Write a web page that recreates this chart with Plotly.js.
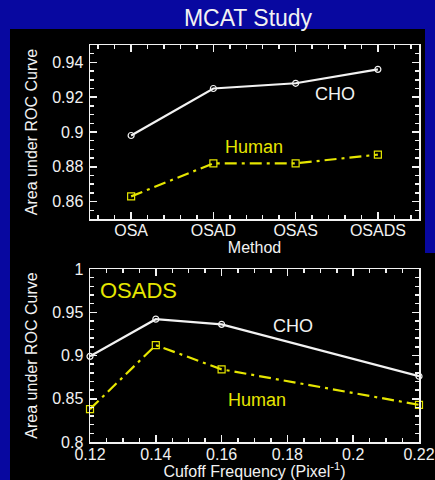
<!DOCTYPE html>
<html>
<head>
<meta charset="utf-8">
<script src="https://cdn.plot.ly/plotly-3.0.1.min.js"></script>
<style>
  html, body { margin: 0; padding: 0; background: #0808a0; }
  #chart { width: 435px; height: 480px; }
</style>
</head>
<body>
<div id="chart"></div>
<script>
// Area under ROC curve by reconstruction method
const methods = ['OSA', 'OSAD', 'OSAS', 'OSADS'];
const choByMethod = [0.898, 0.925, 0.928, 0.936];
const humanByMethod = [0.863, 0.882, 0.882, 0.887];

// OSADS: area under ROC curve by cutoff frequency
const cutoffFreq = [0.12, 0.14, 0.16, 0.22];
const choByCutoff = [0.899, 0.942, 0.936, 0.876];
const humanByCutoff = [0.838, 0.912, 0.884, 0.843];

const W = 435, H = 480;
const FONT = 'Liberation Sans, Arial, sans-serif';
const WHITE = '#f2f2f2';
const YELLOW = '#e6e600';
const BLUE = '#0808a0';
const humanDash = '12px,5px,3px,5px';

const methodIdx = methods.map((_, i) => i);

const px = (a, b) => [a / W, b / W];
const py = (top, bottom) => [1 - bottom / H, 1 - top / H];

function axisBase() {
  return {
    showline: true, linecolor: WHITE, linewidth: 1.5,
    mirror: 'allticks', ticks: 'inside', ticklen: 7, tickwidth: 1.5, tickcolor: WHITE,
    showgrid: false, zeroline: false,
    tickfont: {family: FONT, size: 16, color: WHITE},
    title: {font: {family: FONT, size: 16, color: WHITE}},
    fixedrange: true, automargin: false
  };
}

function series(x, y, xa, ya, color, dash, symbol, size) {
  return {x: x, y: y, xaxis: xa, yaxis: ya, mode: 'lines+markers', cliponaxis: false,
          line: {color: color, width: 2.2, dash: dash},
          marker: {symbol: symbol, size: size, color: color, line: {width: 1.2}}};
}

const traces = [
  series(methodIdx, choByMethod, 'x', 'y', WHITE, 'solid', 'circle-open', 6),
  series(methodIdx, humanByMethod, 'x', 'y', YELLOW, humanDash, 'square-open', 7),
  series(cutoffFreq, choByCutoff, 'x2', 'y2', WHITE, 'solid', 'circle-open', 6),
  series(cutoffFreq, humanByCutoff, 'x2', 'y2', YELLOW, humanDash, 'square-open', 7)
];

const xTop = Object.assign(axisBase(), {
  domain: px(90, 419), anchor: 'y', range: [-0.5, 3.5],
  tickmode: 'array', tickvals: methodIdx, ticktext: methods, ticklabelstandoff: -4,
  minor: {dtick: 0.2, tick0: 0, ticks: 'inside', ticklen: 4, tickcolor: WHITE, showgrid: false}
});
xTop.title.text = 'Method';
xTop.title.standoff = 0;

const yTop = Object.assign(axisBase(), {
  domain: py(45, 219), anchor: 'x', range: [0.85, 0.95],
  tickmode: 'array', tickvals: [0.86, 0.88, 0.9, 0.92, 0.94], ticklabelstandoff: 2,
  minor: {dtick: 0.005, tick0: 0.85, ticks: 'inside', ticklen: 4, tickcolor: WHITE, showgrid: false}
});
yTop.title.text = 'Area under ROC Curve';
yTop.title.standoff = 10;

const xBot = Object.assign(axisBase(), {
  domain: px(90, 419), anchor: 'y2', range: [0.12, 0.22],
  tickmode: 'linear', tick0: 0.12, dtick: 0.02, ticklabelstandoff: -3,
  minor: {dtick: 0.005, ticks: 'inside', ticklen: 4, tickcolor: WHITE, showgrid: false}
});
xBot.title.text = 'Cufoff Frequency (Pixel<sup>-1</sup>)';
xBot.title.standoff = 1;

const yBot = Object.assign(axisBase(), {
  domain: py(269, 442), anchor: 'x2', range: [0.8, 1],
  tickmode: 'linear', tick0: 0.8, dtick: 0.05, ticklabelstandoff: 2,
  minor: {dtick: 0.01, ticks: 'inside', ticklen: 4, tickcolor: WHITE, showgrid: false}
});
yBot.title.text = 'Area under ROC Curve';
yBot.title.standoff = 10;

function label(text, x, y, xref, yref, color, size) {
  return {text: text, x: x, y: y, xref: xref, yref: yref, showarrow: false,
          font: {family: FONT, size: size, color: color}, xanchor: 'center', yanchor: 'middle'};
}

const layout = {
  width: W, height: H,
  margin: {l: 0, r: 0, t: 0, b: 0},
  paper_bgcolor: BLUE, plot_bgcolor: 'rgba(0,0,0,0)',
  showlegend: false,
  title: {text: 'MCAT Study', font: {family: FONT, size: 23, color: WHITE},
          x: 248 / W, xanchor: 'center', y: 1 - 18 / H, yanchor: 'middle'},
  xaxis: xTop, yaxis: yTop, xaxis2: xBot, yaxis2: yBot,
  shapes: [
    {type: 'rect', xref: 'paper', yref: 'paper', layer: 'below',
     x0: 10 / W, x1: 425 / W, y0: 1 - 253 / H, y1: 1 - 29 / H,
     fillcolor: '#000000', line: {width: 0}},
    {type: 'rect', xref: 'paper', yref: 'paper', layer: 'below',
     x0: 10 / W, x1: 1, y0: 0, y1: 1 - 253 / H,
     fillcolor: '#000000', line: {width: 0}}
  ],
  annotations: [
    label('CHO', 2.476, 0.9217, 'x', 'y', WHITE, 18),
    label('Human', 1.488, 0.8916, 'x', 'y', YELLOW, 18),
    label('OSADS', 0.1346, 0.9757, 'x2', 'y2', YELLOW, 22),
    label('CHO', 0.1817, 0.9343, 'x2', 'y2', WHITE, 18),
    label('Human', 0.1707, 0.8486, 'x2', 'y2', YELLOW, 18)
  ]
};

Plotly.newPlot('chart', traces, layout, {displayModeBar: false, staticPlot: true});
</script>
</body>
</html>
